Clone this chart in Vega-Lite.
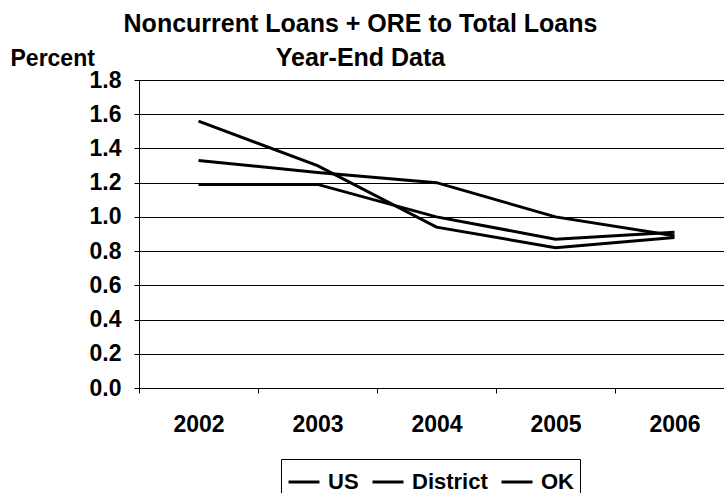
{
  "$schema": "https://vega.github.io/schema/vega-lite/v6.json",
  "autosize": {"type": "none"},
  "padding": {"left": 139, "top": 80, "right": 0, "bottom": 105},
  "width": 595,
  "height": 308,
  "background": "white",
  "config": {
    "font": "Liberation Sans",
    "view": {"stroke": "black", "strokeWidth": 1}
  },
  "title": {
    "text": ["Noncurrent Loans + ORE to Total Loans", "Year-End Data"],
    "fontSize": 25,
    "fontWeight": "bold",
    "font": "Liberation Sans",
    "color": "black",
    "lineHeight": 34,
    "anchor": "middle",
    "dx": -76,
    "offset": -24
  },
  "data": {
    "values": [
      {"year": "2002", "series": "US", "value": 1.19},
      {"year": "2003", "series": "US", "value": 1.19},
      {"year": "2004", "series": "US", "value": 1.00},
      {"year": "2005", "series": "US", "value": 0.87},
      {"year": "2006", "series": "US", "value": 0.91},
      {"year": "2002", "series": "District", "value": 1.33},
      {"year": "2003", "series": "District", "value": 1.26},
      {"year": "2004", "series": "District", "value": 1.20},
      {"year": "2005", "series": "District", "value": 1.00},
      {"year": "2006", "series": "District", "value": 0.89},
      {"year": "2002", "series": "OK", "value": 1.56},
      {"year": "2003", "series": "OK", "value": 1.30},
      {"year": "2004", "series": "OK", "value": 0.94},
      {"year": "2005", "series": "OK", "value": 0.82},
      {"year": "2006", "series": "OK", "value": 0.88}
    ]
  },
  "mark": {"type": "line", "strokeWidth": 3},
  "encoding": {
    "x": {
      "field": "year",
      "type": "ordinal",
      "scale": {"type": "band", "paddingInner": 0, "paddingOuter": 0},
      "axis": {
        "title": null,
        "labelAngle": 0,
        "tickBand": "extent",
        "grid": false,
        "domainColor": "black",
        "tickColor": "black",
        "tickSize": 5,
        "labelFont": "Liberation Sans",
        "labelFontSize": 23,
        "labelFontWeight": "bold",
        "labelColor": "black",
        "labelPadding": 20
      }
    },
    "y": {
      "field": "value",
      "type": "quantitative",
      "scale": {"domain": [0, 1.8], "nice": false},
      "axis": {
        "title": "Percent",
        "titleAngle": 0,
        "titleAlign": "left",
        "titleBaseline": "alphabetic",
        "titleX": -129,
        "titleY": -15,
        "titleFont": "Liberation Sans",
        "titleFontSize": 23,
        "titleFontWeight": "bold",
        "titleColor": "black",
        "values": [0, 0.2, 0.4, 0.6, 0.8, 1.0, 1.2, 1.4, 1.6, 1.8],
        "format": ".1f",
        "grid": true,
        "gridColor": "black",
        "gridOpacity": 1,
        "gridWidth": 1,
        "domainColor": "black",
        "tickColor": "black",
        "tickSize": 5,
        "labelFont": "Liberation Sans",
        "labelFontSize": 23,
        "labelFontWeight": "bold",
        "labelColor": "black",
        "labelPadding": 13
      }
    },
    "color": {
      "field": "series",
      "type": "nominal",
      "scale": {"domain": ["US", "District", "OK"], "range": ["black", "black", "black"]},
      "legend": {
        "title": null,
        "orient": "none",
        "legendX": 142,
        "legendY": 379,
        "direction": "horizontal",
        "strokeColor": "black",
        "fillColor": "white",
        "padding": 6,
        "symbolType": "stroke",
        "symbolSize": 961,
        "symbolStrokeWidth": 3,
        "symbolStrokeColor": "black",
        "labelFont": "Liberation Sans",
        "labelFontSize": 22,
        "labelFontWeight": "bold",
        "labelColor": "black",
        "labelOffset": 7,
        "columnPadding": 7
      }
    }
  }
}
